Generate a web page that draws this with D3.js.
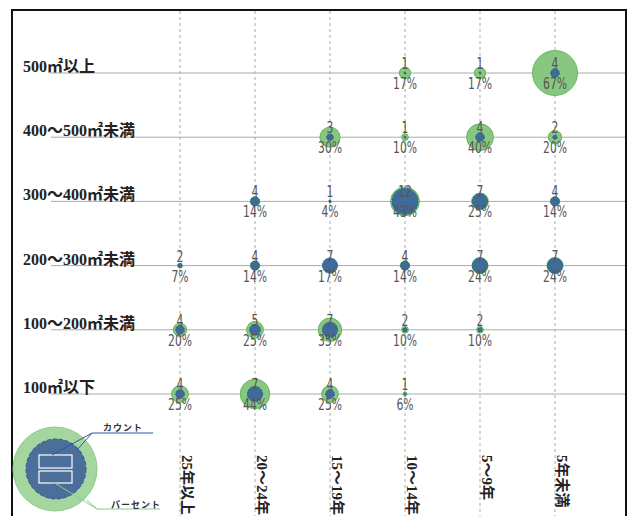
<!doctype html>
<html lang="ja">
    <head>
        <meta charset="utf-8">
        <title>Bubble matrix</title>
        <script src="https://cdn.jsdelivr.net/npm/d3@7"></script>
        <style>
            body { margin: 0; background: #fff; }
            .rowLabel { font-family: "Liberation Serif", "Noto Sans CJK JP", serif; font-weight: bold; font-size: 16px; fill: #222; }
            .colLabel { font-family: "Liberation Serif", "Noto Sans CJK JP", serif; font-weight: bold; font-size: 15px; fill: #222; }
            .val { font-family: "DejaVu Sans", sans-serif; font-size: 15px; fill: #555; }
            .legendText { font-family: "Noto Sans CJK JP", sans-serif; font-size: 9px; font-weight: bold; fill: #333; letter-spacing: 1px; }
        </style>
    </head>
    <body>
        <script>
            // categories
            var areas = ["500㎡以上", "400～500㎡未満", "300～400㎡未満", "200～300㎡未満", "100～200㎡未満", "100㎡以下"];
            var ages = ["25年以上", "20～24年", "15～19年", "10～14年", "5～9年", "5年未満"];

            // counts per row (null = no bubble), same order as ages
            var counts = [
                [null, null, null, 1, 1, 4],
                [null, null, 3, 1, 4, 2],
                [null, 4, 1, 12, 7, 4],
                [2, 4, 7, 4, 7, 7],
                [4, 5, 7, 2, 2, null],
                [4, 7, 4, 1, null, null]
            ];
            // percent of row
            var percents = [
                [null, null, null, 17, 17, 67],
                [null, null, 30, 10, 40, 20],
                [null, 14, 4, 43, 25, 14],
                [7, 14, 17, 14, 24, 24],
                [20, 25, 35, 10, 10, null],
                [25, 44, 25, 6, null, null]
            ];

            var W = 639, H = 516;

            var cells = [];
            areas.forEach(function(a, i) {
                ages.forEach(function(g, j) {
                    if (counts[i][j] != null) {
                        cells.push({area: a, age: g, count: counts[i][j], pct: percents[i][j]});
                    }
                });
            });

            var xScale = d3.scalePoint().domain(ages).range([180, 555]);
            var yScale = d3.scalePoint().domain(areas).range([73, 394]);
            var rPct = d3.scaleLinear().domain([0, 100]).range([0, 33.5]);
            var rCount = d3.scaleLinear().domain([0, 12]).range([0, 13]);

            var svg = d3.select("body").append("svg")
                        .attr("width", W)
                        .attr("height", H);

            // frame
            svg.append("rect")
               .attr("x", 12).attr("y", 10)
               .attr("width", 614).attr("height", 600)
               .attr("fill", "none")
               .attr("stroke", "#111")
               .attr("stroke-width", 2);

            // vertical dashed column lines
            svg.selectAll(".vline").data(ages).enter().append("line")
               .attr("x1", d => xScale(d)).attr("x2", d => xScale(d))
               .attr("y1", 11).attr("y2", H)
               .attr("stroke", "#aaa")
               .attr("stroke-dasharray", "3,3");

            // horizontal row lines
            svg.selectAll(".hline").data(areas).enter().append("line")
               .attr("x1", 51).attr("x2", 625)
               .attr("y1", d => yScale(d)).attr("y2", d => yScale(d))
               .attr("stroke", "#aaa");

            // row labels
            svg.selectAll(".rowLabel").data(areas).enter().append("text")
               .attr("class", "rowLabel")
               .attr("x", 23)
               .attr("y", d => yScale(d) - 1)
               .text(d => d);

            // column labels, rotated
            svg.selectAll(".colLabel").data(ages).enter().append("text")
               .attr("class", "colLabel")
               .attr("transform", d => "translate(" + (xScale(d) + 2) + ",455) rotate(90)")
               .text(d => d);

            // bubbles
            var g = svg.selectAll(".cell").data(cells).enter().append("g")
                       .attr("transform", d => "translate(" + xScale(d.age) + "," + yScale(d.area) + ")");

            g.append("circle")
             .attr("r", d => rPct(d.pct))
             .attr("fill", "#88c781")
             .attr("stroke", "#5fb858")
             .attr("stroke-width", 1);

            g.append("circle")
             .attr("r", d => rCount(d.count))
             .attr("fill", "#3f6b99")
             .attr("stroke", "#2d5a8e")
             .attr("stroke-dasharray", "2,1");

            // narrow value labels (squeezed horizontally)
            g.append("text")
             .attr("class", "val")
             .attr("text-anchor", "middle")
             .attr("transform", "translate(0,-4) scale(0.72,1)")
             .text(d => d.count);

            g.append("text")
             .attr("class", "val")
             .attr("text-anchor", "middle")
             .attr("transform", "translate(0,16) scale(0.72,1)")
             .text(d => d.pct + "%");

            // legend
            var lg = svg.append("g");
            lg.append("circle")
              .attr("cx", 55).attr("cy", 469).attr("r", 42)
              .attr("fill", "#a6d69f").attr("stroke", "#8fcb88");
            lg.append("circle")
              .attr("cx", 56).attr("cy", 469).attr("r", 30)
              .attr("fill", "#4a6f99").attr("stroke", "#2c5590")
              .attr("stroke-dasharray", "4,2");
            lg.append("rect")
              .attr("x", 39).attr("y", 455).attr("width", 33).attr("height", 13)
              .attr("fill", "none").attr("stroke", "#fff").attr("stroke-width", 1.2);
            lg.append("rect")
              .attr("x", 39).attr("y", 471).attr("width", 33).attr("height", 12)
              .attr("fill", "none").attr("stroke", "#fff").attr("stroke-width", 1.2);

            var line = d3.line();
            lg.append("path")
              .attr("d", line([[52, 455], [92, 433], [153, 433]]))
              .attr("fill", "none").attr("stroke", "#2b55a0");
            lg.append("path")
              .attr("d", line([[77, 450], [92, 433]]))
              .attr("fill", "none").attr("stroke", "#2b55a0");
            lg.append("path")
              .attr("d", line([[53, 482], [97, 509], [160, 509]]))
              .attr("fill", "none").attr("stroke", "#8fcb88");
            lg.append("path")
              .attr("d", line([[87, 500], [97, 509]]))
              .attr("fill", "none").attr("stroke", "#8fcb88");

            lg.append("text").attr("class", "legendText")
              .attr("x", 103).attr("y", 431).text("カウント");
            lg.append("text").attr("class", "legendText")
              .attr("x", 111).attr("y", 508).text("パーセント");
        </script>
    </body>
</html>
